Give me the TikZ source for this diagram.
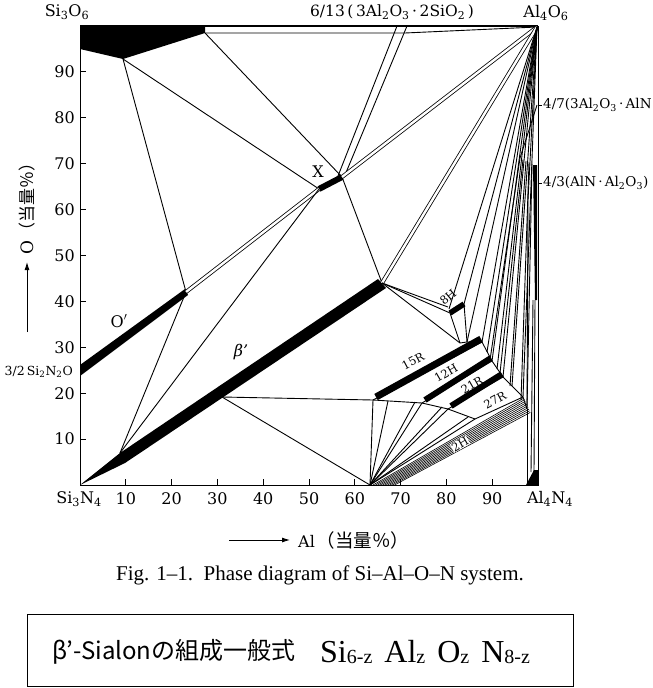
\documentclass[tikz,border=0pt]{standalone}
\usepackage{fontspec}
\setmainfont{Liberation Serif}
\newfontfamily\dvs{DejaVu Serif}
\newfontfamily\cjk{Noto Sans CJK JP}
\usetikzlibrary{arrows.meta}
\newcommand{\sbs}[1]{\textsubscript{#1}}
\newcommand{\fsub}[1]{\raisebox{-1.5pt}{\fontsize{20}{20}\selectfont #1}}
\begin{document}
\begin{tikzpicture}[x=1pt,y=-1pt,
  ln/.style={line width=0.9pt},
  dbl/.style={double=white,double distance=2.4pt,line width=0.8pt},
  lbl/.style={font=\dvs\fontsize{16}{16}\selectfont,inner sep=0pt},
  sml/.style={font=\dvs\fontsize{11.5}{11.5}\selectfont,inner sep=0.5pt},
  bandl/.style={line width=#1,line cap=butt}]
\useasboundingbox (0,0) rectangle (653,688);
\fill[white] (0,0) rectangle (653,688);

% key points
\coordinate (SiO) at (80,26);
\coordinate (AlO) at (537,27);
\coordinate (SiN) at (80,485);
\coordinate (AlN) at (538,485);
\coordinate (P1) at (123,59);
\coordinate (P2) at (205,33);
\coordinate (Op) at (186,292);
\coordinate (XL) at (319,189);
\coordinate (XR) at (342,177);
\coordinate (Bz) at (120,453);
\coordinate (Be) at (382,283);
\coordinate (Bm) at (222,397);
\coordinate (B0) at (370,485);

% frame
\draw[ln] (SiO) -- (SiN) -- (AlN) -- (538,26);
\draw[line width=1.6pt] (SiO) -- (538,26);

% ticks and tick labels
\foreach \k in {1,...,9}{
  \draw[ln] ({80+45.8*\k},485) -- ({80+45.8*\k},479);
  \node[lbl] at ({80+45.8*\k},499) {\k0};
  \draw[ln] (80,{485-45.9*\k}) -- (86,{485-45.9*\k});
  \node[lbl,anchor=east] at (75,{485-45.9*\k}) {\k0};
}

% corner / compound labels
\node[lbl] at (67,12) {Si\sbs{3}O\sbs{6}};
\node[lbl] at (546,13) {Al\sbs{4}O\sbs{6}};
\node[lbl] at (79,499) {Si\sbs{3}N\sbs{4}};
\node[lbl] at (550,499) {Al\sbs{4}N\sbs{4}};
\node[font=\dvs\fontsize{12.5}{12.5}\selectfont,inner sep=0pt,anchor=east] at (73,372) {3/2\,Si\sbs{2}N\sbs{2}O};
\node[font=\dvs\fontsize{15.5}{15.5}\selectfont,inner sep=0pt] at (392,12) {6/13\,(\,3Al\sbs{2}O\sbs{3}\,·\,2SiO\sbs{2}\,)};
\draw[ln] (538,105) -- (542,105);
\node[font=\dvs\fontsize{13.5}{13.5}\selectfont,inner sep=0pt,anchor=west] at (543,105) {4/7(3Al\sbs{2}O\sbs{3}\,·\,AlN};
\draw[ln] (538,183) -- (542,183);
\node[font=\dvs\fontsize{13.5}{13.5}\selectfont,inner sep=0pt,anchor=west] at (543,183) {4/3(AlN\,·\,Al\sbs{2}O\sbs{3})};

% top-left silica region and top band
\fill (80,26) -- (205,26) -- (205,33) -- (P1) -- (80,49) -- cycle;
\draw[ln] (P2) -- (405,33) -- (AlO);
% mullite lines
\draw[ln] (397,26) -- (338,176);
\draw[ln] (407,26) -- (345,175);
% X phase
\draw[bandl=6pt] (XL) -- (XR);
\node[lbl] at (318,172) {X};

% O' phase
\fill (80,365) -- (185,289) -- (188,295) -- (80,376) -- cycle;
\node[lbl] at (119,321) {O$'$};

% beta' phase
\fill (SiN) -- (Bz) -- (378,279) -- (386,288) -- (125,463) -- cycle;
\node[lbl] at (241,352) {\itshape β’};

% tie lines upper part
\draw[ln] (P1) -- (Op);
\draw[ln] (P1) -- (XL);
\draw[ln] (P2) -- (XR);
\draw[ln] (XR) -- (Be);
\draw[dbl] (Op) -- (XL);
\draw[dbl] (XR) -- (AlO);
\draw[dbl] (Be) -- (AlO);
\draw[ln] (Bz) -- (Op);
\draw[ln] (Bz) -- (XL);
\draw[ln] (Bm) -- (373,400) -- (422,403);
\draw[ln] (Bm) -- (B0);

% 8H
\coordinate (H8a) at (450,313);
\coordinate (H8b) at (464,304);
\draw[bandl=5.5pt] (H8a) -- (H8b);
\node[sml,rotate=40] at (448,297) {8H};
\draw[ln] (Be) -- (448,307);
\draw[ln] (Be) -- (H8a);
\draw[ln] (Be) -- (460,343);
\draw[ln] (H8a) -- (460,343);
\draw[ln] (H8b) -- (467,342);
\draw[ln] (449,309) -- (AlO);
\draw[ln] (H8b) -- (AlO);

% polytypes
\coordinate (R15a) at (373,400);
\coordinate (R15b) at (482,342);
\coordinate (H12a) at (422,403);
\coordinate (H12b) at (492,361);
\coordinate (R21a) at (448,409);
\coordinate (R21b) at (503,377);
\coordinate (R27a) at (475,419);
\coordinate (R27b) at (523,397);
\draw[bandl=7pt] (376,397) -- (481,339);
\draw[bandl=6pt] (425,400) -- (491,358);
\draw[bandl=6pt] (451,406) -- (502,374);
\draw[ln] (R15a) -- (R15b);
\draw[ln] (H12a) -- (H12b);
\draw[ln] (R21a) -- (R21b);
\draw[ln] (R27a) -- (R27b);
\node[sml,rotate=28] at (413,361) {15R};
\node[sml,rotate=30] at (446,373) {12H};
\node[sml,rotate=30] at (472,385) {21R};
\node[sml,rotate=28] at (495,400) {27R};
% chains
\draw[ln] (R15b) -- (H12b) -- (R21b) -- (R27b) -- (527,409);
\draw[ln] (H12a) -- (R21a) -- (R27a);
\draw[ln] (460,343) -- (467,342) -- (R15b);
% fan from bottom point
\foreach \p in {(373,400),(388,401),(415,402),(422,403),(442,407),(448,409),(468,417),(475,419)}
  \draw[ln] (B0) -- \p;
% 2H hatch
\foreach \i in {0,...,9}
  \draw[line width=0.6pt] ({373+2.4*\i},485) -- ({524+0.7*\i},{398+1.6*\i});
\node[sml,fill=white,rotate=30] at (460,444) {2H};
% lines to Al4O6
\foreach \p in {(467,342),(R15b),(H12b),(R21b),(487,352),(497,369),(512,386),(R27b)}
  \draw[ln] (AlO) -- \p;
% AlON region lines
\draw[ln] (537,105) -- (520,158);
\draw[ln] (AlO) -- (528,200) -- (527,409);
\foreach \a/\b in {520/490, 523/500, 526/510, 529/521, 532/527}
  \draw[ln] (\a,{158+(\a-520)/2}) -- (\b,{360+(\b-490)*1.3});
\fill (533,165) -- (537,165) -- (537,300) -- (535,300) -- cycle;
\draw[ln] (533,300) -- (531,472);
\draw[ln] (535,300) -- (534,472);
\draw[ln] (527,409) -- (527,485);
\fill (526,485) -- (534,470) -- (538,470) -- (538,485) -- cycle;

% axis titles
\coordinate (ya) at (27,332);
\coordinate (yb) at (27,262);
\draw[ln,-{Latex[length=8pt,width=5pt]}] (ya) -- (yb);
\node[rotate=90,anchor=west,inner sep=0pt] at (27,255) {{\dvs\fontsize{17}{17}\selectfont O}\,{\cjk\fontsize{17}{17}\selectfont （当量％）}};
\coordinate (xa) at (229,540);
\coordinate (xb) at (290,540);
\draw[ln,-{Latex[length=8pt,width=5pt]}] (xa) -- (xb);
\node[anchor=west,inner sep=0pt] at (298,540) {{\dvs\fontsize{16}{16}\selectfont Al}\,{\cjk\fontsize{18.5}{18.5}\selectfont （当量％）}};

% caption
\node[font=\fontsize{21}{21}\selectfont] at (320,575) {Fig. 1--1.\ \ Phase diagram of Si--Al--O--N system.};

% formula box
\draw[line width=1pt] (27,614) rectangle (573,686);
\node[anchor=west,font=\cjk\fontsize{24}{24}\selectfont,inner sep=0pt] at (52,652) {β’-Sialonの組成一般式};
\node[anchor=west,font=\fontsize{32}{32}\selectfont,inner sep=0pt] at (320,652) {Si\fsub{6-z}\hspace{12pt}Al\fsub{z}\hspace{12pt}O\fsub{z}\hspace{12pt}N\fsub{8-z}};
\end{tikzpicture}
\end{document}
